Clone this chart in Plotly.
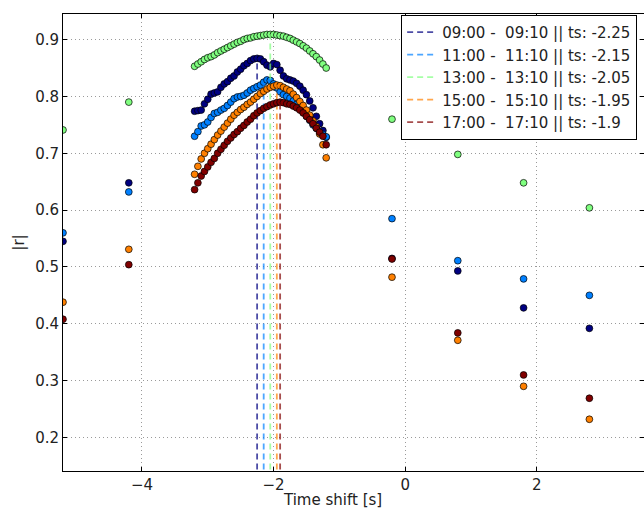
import numpy as np
import plotly.graph_objects as go

# Time-shift grid: two coarse lags on the left, a fine 0.05 s scan, coarse lags on the right
lags_left = [-5.2, -4.2]
lags_fine = list(np.round(np.arange(-3.2, -1.199, 0.05), 2))
lags_right = [-0.2, 0.8, 1.8, 2.8]
lags = lags_left + lags_fine + lags_right

labels = ["09:00 -  09:10", "11:00 -  11:10", "13:00 -  13:10", "15:00 -  15:10", "17:00 -  17:10"]
best_shift = [-2.25, -2.15, -2.05, -1.95, -1.9]
colors = ["#000080", "#0080ff", "#80ff80", "#ff8000", "#800000"]
line_colors = ["rgba(0,0,128,0.7)", "rgba(0,128,255,0.7)", "rgba(128,255,128,0.7)",
               "rgba(255,128,0,0.7)", "rgba(128,0,0,0.7)"]

r_0900 = ([0.545, 0.648] +
          [0.774, 0.775, 0.776, 0.787, 0.795, 0.804, 0.806, 0.808, 0.816, 0.822,
           0.826, 0.832, 0.836, 0.843, 0.848, 0.854, 0.858, 0.863, 0.866, 0.867,
           0.866, 0.861, 0.855, 0.852, 0.858, 0.856, 0.846, 0.836, 0.831, 0.829,
           0.827, 0.823, 0.818, 0.811, 0.803, 0.792, 0.780, 0.765, 0.752, 0.740,
           0.728] +
          [0.515, 0.493, 0.428, 0.392])
r_1100 = ([0.560, 0.632] +
          [0.730, 0.738, 0.748, 0.750, 0.755, 0.763, 0.770, 0.772, 0.776, 0.779,
           0.784, 0.790, 0.796, 0.799, 0.800, 0.802, 0.806, 0.811, 0.814, 0.817,
           0.820, 0.825, 0.829, 0.828, 0.822, 0.815, 0.808, 0.803, 0.800, 0.797,
           0.792, 0.786, 0.780, 0.772, 0.765, 0.758, 0.750, 0.744, 0.738, 0.733,
           0.729] +
          [0.585, 0.511, 0.479, 0.450])
r_1300 = ([0.741, 0.790] +
          [0.853, 0.857, 0.861, 0.865, 0.868, 0.870, 0.873, 0.877, 0.880, 0.883,
           0.886, 0.889, 0.892, 0.895, 0.897, 0.900, 0.902, 0.903, 0.905, 0.906,
           0.907, 0.908, 0.909, 0.909, 0.909, 0.908, 0.907, 0.906, 0.904, 0.902,
           0.899, 0.896, 0.893, 0.889, 0.885, 0.880, 0.875, 0.870, 0.864, 0.857,
           0.850] +
          [0.760, 0.698, 0.648, 0.604])
r_1500 = ([0.438, 0.531] +
          [0.663, 0.677, 0.690, 0.700, 0.708, 0.716, 0.724, 0.732, 0.739, 0.746,
           0.753, 0.760, 0.767, 0.772, 0.777, 0.781, 0.786, 0.790, 0.795, 0.800,
           0.805, 0.809, 0.813, 0.816, 0.818, 0.820, 0.819, 0.816, 0.813, 0.810,
           0.804, 0.798, 0.791, 0.784, 0.776, 0.767, 0.757, 0.747, 0.734, 0.715,
           0.692] +
          [0.482, 0.371, 0.290, 0.232])
r_1700 = ([0.408, 0.504] +
          [0.636, 0.648, 0.660, 0.668, 0.676, 0.684, 0.691, 0.700, 0.707, 0.714,
           0.721, 0.727, 0.733, 0.738, 0.744, 0.749, 0.755, 0.760, 0.766, 0.771,
           0.775, 0.779, 0.782, 0.785, 0.787, 0.789, 0.790, 0.789, 0.787, 0.786,
           0.783, 0.780, 0.776, 0.771, 0.765, 0.759, 0.752, 0.744, 0.737, 0.730,
           0.715] +
          [0.514, 0.384, 0.310, 0.269])
series = [r_0900, r_1100, r_1300, r_1500, r_1700]

x_range = [-5.2, 3.63]
y_range = [0.141, 0.945]

fig = go.Figure()
for lab, ts, col, lcol, r in zip(labels, best_shift, colors, line_colors, series):
    fig.add_trace(go.Scatter(
        x=lags, y=r, mode="markers", showlegend=False,
        marker=dict(color=col, size=6.8, line=dict(color="black", width=0.7)),
    ))
    fig.add_trace(go.Scatter(
        x=[ts, ts], y=[y_range[0] - 0.05, max(r)], mode="lines",
        name=f"{lab} || ts: {ts}".replace("  ", "\u00a0\u00a0"),
        line=dict(color=lcol, width=1.8, dash="6px,4px"),
    ))

axis_common = dict(
    showline=True, linecolor="black", linewidth=1, mirror="allticks",
    ticks="inside", ticklen=4, tickcolor="black",
    showgrid=True, gridcolor="#9a9a9a", griddash="1px,3px", gridwidth=1,
    zeroline=False, tickfont=dict(family="DejaVu Sans", size=15, color="#222"),
)
fig.update_xaxes(range=x_range, tickvals=[-4, -2, 0, 2, 4],
                 ticktext=["\u22124", "\u22122", "0", "2", "4"], **axis_common)
fig.update_yaxes(range=y_range, tickvals=[0.2, 0.3, 0.4, 0.5, 0.6, 0.7, 0.8, 0.9],
                 title=dict(text="|r|", font=dict(family="DejaVu Sans", size=15, color="#222"),
                            standoff=6),
                 **axis_common)

fig.add_annotation(text="Time shift [s]", xref="paper", yref="paper",
                   x=0.463, y=-0.063, xanchor="center", yanchor="middle",
                   showarrow=False, font=dict(family="DejaVu Sans", size=15, color="#222"))

fig.update_layout(
    width=644, height=512,
    margin=dict(l=63, r=0, t=14, b=41),
    paper_bgcolor="white", plot_bgcolor="white",
    font=dict(family="DejaVu Sans", size=15, color="#222"),
    legend=dict(x=0.582, y=0.998, xanchor="left", yanchor="top",
                bgcolor="white", bordercolor="black", borderwidth=1,
                font=dict(family="DejaVu Sans", size=15, color="#222"),
                tracegroupgap=0),
)

fig.write_html("out.html")
